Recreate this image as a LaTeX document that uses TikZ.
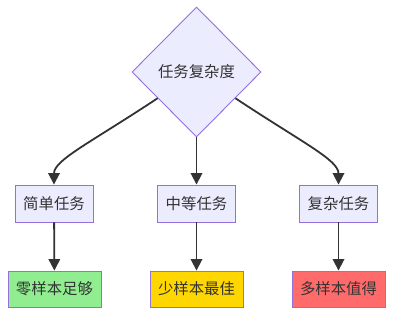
\documentclass[tikz,border=0pt]{standalone}
\usepackage{fontspec}
\setmainfont{Noto Sans CJK SC}
\usetikzlibrary{shapes.geometric, arrows.meta, positioning}
\definecolor{boxfill}{HTML}{ECECFF}
\definecolor{boxline}{HTML}{9370DB}
\definecolor{ink}{HTML}{333333}
\definecolor{zerofill}{HTML}{90EE90}
\definecolor{fewfill}{HTML}{FFD700}
\definecolor{manyfill}{HTML}{FF6B6B}
\tikzset{
  task/.style={draw=boxline, fill=boxfill, line width=0.9pt, text=ink,
    minimum width=78pt, minimum height=37pt, inner sep=0pt},
  result/.style={task, minimum width=93pt, minimum height=36pt},
  link/.style={->, draw=ink, line width=1.8pt}
}
\begin{document}
\begin{tikzpicture}[x=1pt, y=-1pt, >={Triangle[length=11.5pt, width=11.5pt]},
  font=\fontsize{15.4}{18}\selectfont]
                \useasboundingbox (0,0) rectangle (401,322);
                \node[diamond, aspect=1, draw=boxline, fill=boxfill, line width=0.9pt, text=ink,
                  minimum width=129pt, minimum height=130pt, inner sep=0pt] (q) at (196.5,72) {任务复杂度};

                \node[task] (simple) at (54,203.5) {简单任务};
                \node[task] (medium) at (196.5,203.5) {中等任务};
                \node[task] (complex) at (338.5,203.5) {复杂任务};

                \node[result, fill=zerofill] (zero) at (54.5,289) {零样本足够};
                \node[result, fill=fewfill] (few) at (196.5,289) {少样本最佳};
                \node[result, fill=manyfill] (many) at (338.5,289) {多样本值得};

                % curved links out of the diamond
                \draw[link] (q.-146) .. controls (90,143) and (54,160) .. (simple.north);
                \draw[link] (q.south) -- (medium.north);
                \draw[link] (q.-34) .. controls (303,143) and (338.5,160) .. (complex.north);

                \draw[link] (simple) -- (zero);
                \draw[link] (medium) -- (few);
                \draw[link] (complex) -- (many);
            \end{tikzpicture}
\end{document}
